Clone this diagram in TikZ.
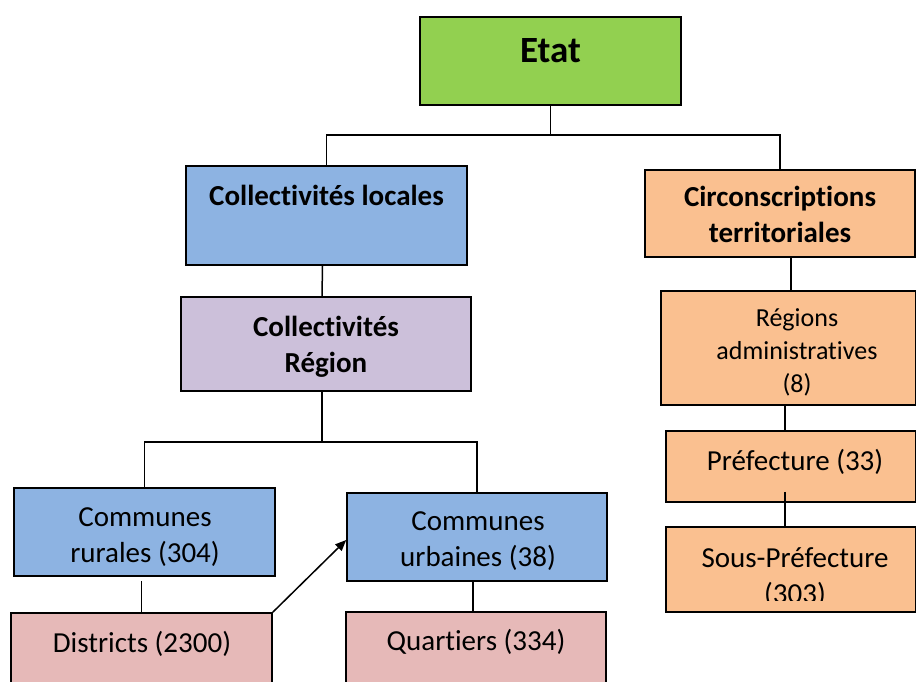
\documentclass[tikz,border=0pt]{standalone}
\usepackage{fontspec}
\setmainfont{Carlito}[Ligatures=NoCommon,RawFeature={-liga;-clig;-calt;-dlig}]
\usetikzlibrary{arrows.meta}
\definecolor{cgreen}{HTML}{92D050}
\definecolor{cblue}{HTML}{8DB3E2}
\definecolor{clilac}{HTML}{CCC0DA}
\definecolor{corange}{HTML}{FAC090}
\definecolor{cpink}{HTML}{E6B9B8}
\begin{document}
\begin{tikzpicture}[x=1pt,y=-1pt,
  bx/.style={draw=black,line width=1.6pt,inner sep=0pt,anchor=center},
  lbl/.style={inner sep=0pt,anchor=base,align=center,font=\fontsize{29}{35.5}\selectfont},
  lblb/.style={lbl,font=\fontsize{29}{35.5}\selectfont\bfseries},
  conn/.style={draw=black,line width=1.5pt}]
\clip (0,0) rectangle (916,682);
\useasboundingbox (0,0) rectangle (916,682);
% boxes
\node[bx,fill=cgreen,minimum width=261,minimum height=88] (etat) at (550.5,61) {};
\node[bx,fill=cblue,minimum width=281,minimum height=99] (cl) at (326.5,215.5) {};
\node[bx,fill=clilac,minimum width=290,minimum height=94] (cr) at (326,344) {};
\node[bx,fill=corange,minimum width=270,minimum height=87] (circ) at (780,213.5) {};
\node[bx,fill=corange,minimum width=255,minimum height=114] (reg) at (788.5,348) {};
\node[bx,fill=corange,minimum width=250,minimum height=71] (pref) at (791,466.5) {};
\node[bx,fill=corange,minimum width=250,minimum height=85] (sp) at (791,569.5) {};
\node[bx,fill=cblue,minimum width=261,minimum height=88] (crur) at (144.5,532) {};
\node[bx,fill=cblue,minimum width=260,minimum height=88] (curb) at (477,537) {};
\node[bx,fill=cpink,minimum width=261,minimum height=90] (dist) at (141.5,658) {};
\node[bx,fill=cpink,minimum width=260,minimum height=90] (quart) at (476,657) {};
% labels (base = baseline of last line)
\node[lbl,font=\fontsize{37}{44}\selectfont\bfseries] (tetat) at (550.5,63) {Etat};
\node[lblb] (tcl) at (326.5,205) {Collectivités locales};
\node[lblb] (tcr) at (326,372) {Collectivités\\Région};
\node[lblb] (tcirc) at (780,242) {Circonscriptions\\territoriales};
\node[lbl,font=\fontsize{26}{32.6}\selectfont] (treg) at (797,392) {Régions\\administratives\\(8)};
\node[lbl] (tpref) at (795,470) {Préfecture (33)};
\begin{scope}
\clip (666,528) rectangle (916,600.5);
\node[lbl] (tsp) at (795,603) {Sous-Préfecture\\(303)};
\end{scope}
\node[lbl] (tcrur) at (145,562) {Communes\\rurales (304)};
\node[lbl] (tcurb) at (478,566) {Communes\\urbaines (38)};
\node[lbl] (tdist) at (142,652) {Districts (2300)};
\node[lbl] (tquart) at (476,650) {Quartiers (334)};
% connectors
\draw[conn] (etat.south) -- ++(0,29) coordinate (j1);
\draw[conn] (cl.north) |- (j1) -| (circ.north);
\draw[conn] ([xshift=-4pt]cl.south) -- ([xshift=-4pt]cr.north);
\draw[conn] ([xshift=-4pt]cr.south) -- ++(0,50) coordinate (j2);
\draw[conn] (crur.north) |- (j2) -| (curb.north);
\draw[conn] ([yshift=-4pt]crur.south -| dist.north) -- (dist.north);
\draw[conn,-{Triangle[length=11pt,width=9pt]}] (dist.north east) -- ([yshift=-3pt]curb.west);
\draw[conn] ([xshift=-4pt]curb.south) -- ([xshift=-3pt]quart.north);
\draw[conn] ([xshift=2.5pt]reg.north |- circ.south) -- ([xshift=2.5pt]reg.north);
\draw[conn] ([xshift=-6pt]pref.north |- reg.south) -- ([xshift=-6pt]pref.north);
\draw[conn] ([xshift=-6pt,yshift=11pt]pref.south) -- ([xshift=-6pt]sp.north);
\end{tikzpicture}
\end{document}
